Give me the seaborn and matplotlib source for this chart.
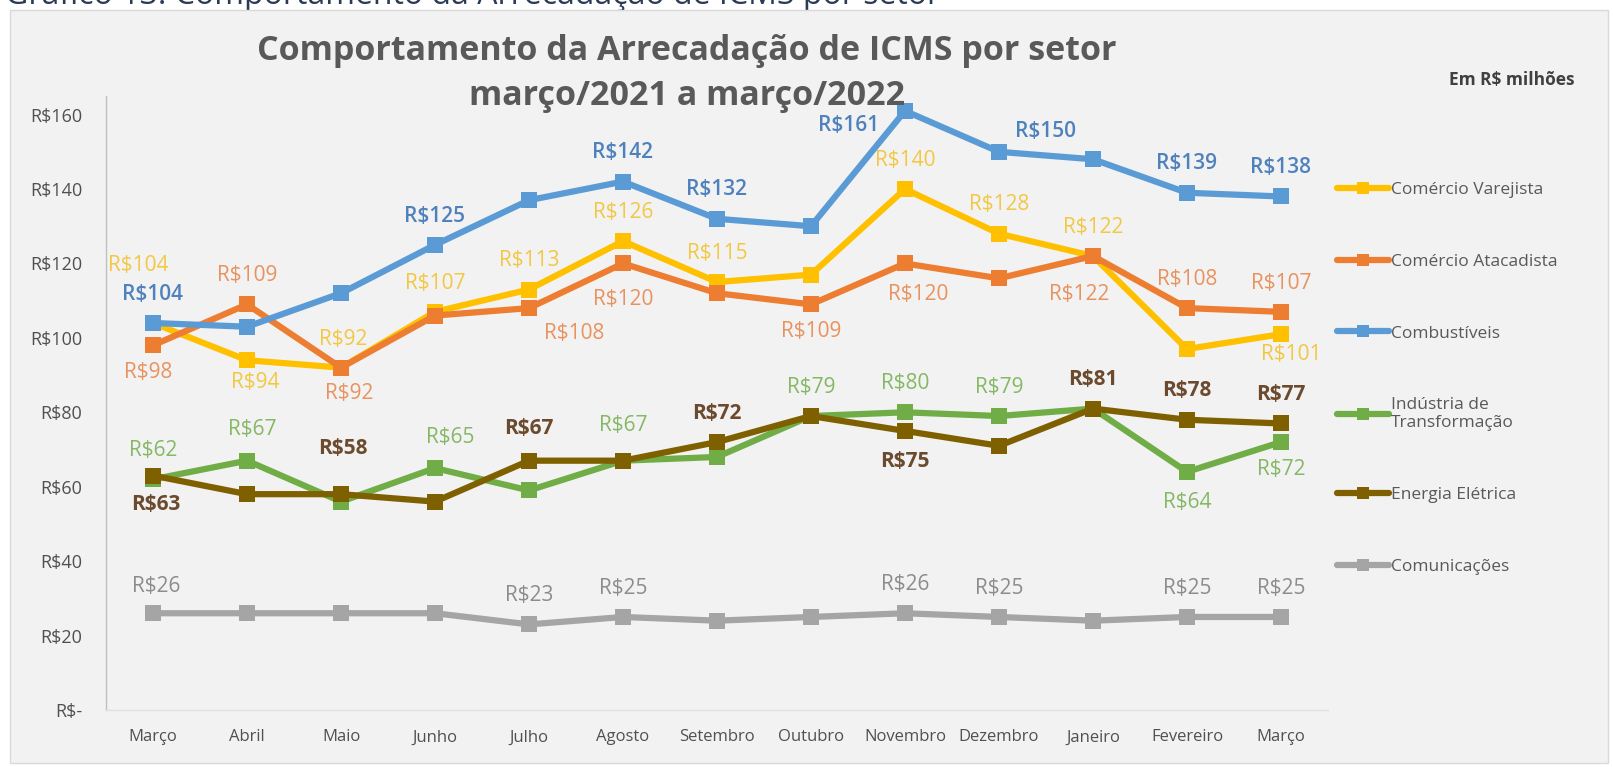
import matplotlib
matplotlib.use("Agg")
import matplotlib.pyplot as plt
from matplotlib.lines import Line2D
from matplotlib.patches import Rectangle
import seaborn as sns
import pandas as pd

# ---------------- data ----------------
meses = ["Março", "Abril", "Maio", "Junho", "Julho", "Agosto", "Setembro",
         "Outubro", "Novembro", "Dezembro", "Janeiro", "Fevereiro", "Março"]

setores = ["Comércio Varejista", "Comércio Atacadista", "Combustíveis",
           "Indústria de Transformação", "Energia Elétrica", "Comunicações"]

comercio_varejista = [104, 94, 92, 107, 113, 126, 115, 117, 140, 128, 122, 97, 101]
comercio_atacadista = [98, 109, 92, 106, 108, 120, 112, 109, 120, 116, 122, 108, 107]
combustiveis = [104, 103, 112, 125, 137, 142, 132, 130, 161, 150, 148, 139, 138]
industria_transformacao = [62, 67, 56, 65, 59, 67, 68, 79, 80, 79, 81, 64, 72]
energia_eletrica = [63, 58, 58, 56, 67, 67, 72, 79, 75, 71, 81, 78, 77]
comunicacoes = [26, 26, 26, 26, 23, 25, 24, 25, 26, 25, 24, 25, 25]

y_ticks = [0, 20, 40, 60, 80, 100, 120, 140, 160]

series = {
    "Comércio Varejista": comercio_varejista,
    "Comércio Atacadista": comercio_atacadista,
    "Combustíveis": combustiveis,
    "Indústria de Transformação": industria_transformacao,
    "Energia Elétrica": energia_eletrica,
    "Comunicações": comunicacoes,
}

# ---------------- style ----------------
line_colors = {
    "Comércio Varejista": "#FFC000",
    "Comércio Atacadista": "#ED7D31",
    "Combustíveis": "#5B9BD5",
    "Indústria de Transformação": "#70AD47",
    "Energia Elétrica": "#7F6000",
    "Comunicações": "#A5A5A5",
}
label_colors = {
    "Comércio Varejista": "#F2C744",
    "Comércio Atacadista": "#E8935F",
    "Combustíveis": "#4F81BD",
    "Indústria de Transformação": "#84B865",
    "Energia Elétrica": "#6B4A2E",
    "Comunicações": "#8C8C8C",
}
label_weight = {
    "Comércio Varejista": "normal",
    "Comércio Atacadista": "normal",
    "Combustíveis": "semibold",
    "Indústria de Transformação": "normal",
    "Energia Elétrica": "bold",
    "Comunicações": "normal",
}
# label offsets (dx, dy) in pixels, positive dy = up; None = no label
U = (0, 28)
label_pos = {
    "Comércio Varejista": [(-14, 56), (8, -22), (2, 27), U, U, U, U, None, U, U, U, None, (10, -20)],
    "Comércio Atacadista": [(-5, -26), U, (8, -25), None, (44, -25), (0, -35), None, (0, -26), (13, -30), None, (-13, -37), U, U],
    "Combustíveis": [U, None, None, U, None, U, U, None, (-55, -14), (45, 20), None, U, U],
    "Indústria de Transformação": [U, (5, 30), None, (15, 30), None, (0, 34), None, U, U, U, None, (0, -30), (0, -27)],
    "Energia Elétrica": [(3, -28), None, (2, 44), None, (0, 31), None, U, None, (0, -30), None, U, U, U],
    "Comunicações": [(3, 26), None, None, None, U, U, None, None, U, U, None, U, U],
}

sns.set_theme(style="white")
plt.rcParams["font.family"] = ["Open Sans", "DejaVu Sans"]

W, H = 1613, 767
fig = plt.figure(figsize=(W / 100, H / 100), dpi=100, facecolor="white")

# chart box
fig.patches.append(Rectangle((10 / W, 4 / H), 1598 / W, 753 / H, transform=fig.transFigure,
                             facecolor="#F2F2F2", edgecolor="#D9D9D9", lw=1, zorder=-5))
# clipped caption above the chart
fig.text(0.003, 1 - 4 / H, "Gráfico 13: Comportamento da Arrecadação de ICMS por setor",
         fontsize=23, color="#2B3A55", va="baseline", ha="left", zorder=-6)

ax = fig.add_axes([106 / W, 1 - 710 / H, (1328 - 106) / W, (710 - 96) / H])
ax.set_facecolor("none")

rows = []
for s in setores:
    for i, v in enumerate(series[s]):
        rows.append({"pos": i, "valor": v, "setor": s})
df = pd.DataFrame(rows)

sns.lineplot(data=df, x="pos", y="valor", hue="setor", hue_order=setores, style="setor",
             style_order=setores, markers=["s"] * 6, dashes=False, palette=line_colors,
             linewidth=4.5, markersize=11, markeredgewidth=0, legend=False, ax=ax, sort=False)

px2pt = 1.0287 * 72 / 100
for s in setores:
    for i, v in enumerate(series[s]):
        p = label_pos[s][i]
        if p is None:
            continue
        ax.annotate(f"R${v:.0f}", (i, v), xytext=(p[0] * px2pt, p[1] * px2pt),
                    textcoords="offset points", ha="center", va="center",
                    fontsize=15, color=label_colors[s], fontweight=label_weight[s])

ax.set_xlim(-0.5, len(meses) - 0.5)
ax.set_ylim(0, 165)
ax.set_xticks(range(len(meses)))
ax.set_xticklabels(meses, fontsize=12, color="#505050")
ax.set_yticks(y_ticks)
ax.set_yticklabels([f"R${t}" if t else "R$-" for t in y_ticks], fontsize=13, color="#505050")
ax.tick_params(axis="y", length=0, pad=17)
ax.tick_params(axis="x", length=0, pad=14)
ax.set_xlabel("")
ax.set_ylabel("")
for sp in ["top", "right"]:
    ax.spines[sp].set_visible(False)
ax.spines["left"].set_color("#BFBFBF")
ax.spines["bottom"].set_color("#E0E0E0")
ax.spines["left"].set_linewidth(1)
ax.spines["bottom"].set_linewidth(1)

# titles
fig.text(687 / W, 1 - 51 / H, "Comportamento da Arrecadação de ICMS por setor",
         fontsize=24.5, fontweight="bold", color="#595959", ha="center", va="center")
fig.text(687 / W, 1 - 96 / H, "março/2021 a março/2022",
         fontsize=24.5, fontweight="bold", color="#595959", ha="center", va="center")
fig.text(1512 / W, 1 - 80 / H, "Em R$ milhões", fontsize=12.5, fontweight="bold",
         color="#404040", ha="center", va="center")

handles = [Line2D([0], [0], color=line_colors[s], lw=4.5, marker="s", markersize=8,
                  markeredgewidth=0) for s in setores]
leg_labels = ["Comércio Varejista", "Comércio Atacadista", "Combustíveis",
              "Indústria de\nTransformação", "Energia Elétrica", "Comunicações"]
leg = fig.legend(handles, leg_labels, loc="upper left", bbox_to_anchor=(1330 / W, 1 - 175 / H),
                 frameon=False, fontsize=12.5, labelspacing=3.2, handlelength=3.0,
                 handletextpad=0.1, borderaxespad=0)
for t in leg.get_texts():
    t.set_color("#595959")

fig.savefig("out.png", dpi=100, facecolor=fig.get_facecolor())
